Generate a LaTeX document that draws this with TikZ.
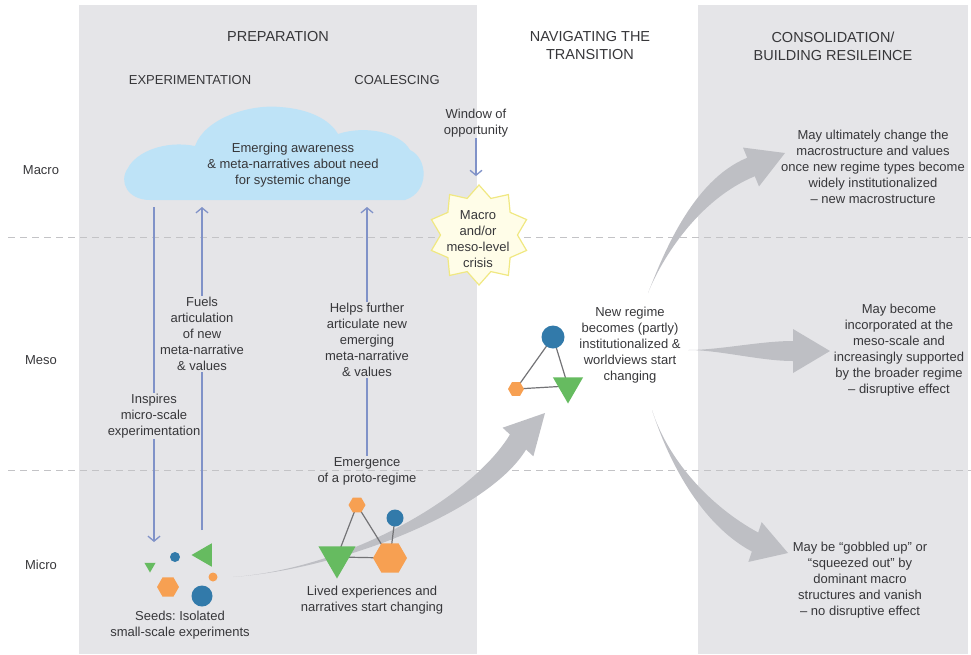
\documentclass[tikz,border=0pt]{standalone}
\usepackage{fontspec}
\setmainfont{Liberation Sans}
\usetikzlibrary{shapes.geometric,arrows.meta,calc,backgrounds}

\definecolor{panelgray}{RGB}{229,229,232}
\definecolor{txtgray}{RGB}{55,55,58}
\definecolor{sepgray}{RGB}{195,195,198}
\definecolor{arrowgray}{RGB}{190,191,196}
\definecolor{linkgray}{RGB}{115,115,118}
\definecolor{flowblue}{RGB}{128,146,200}
\definecolor{cloudblue}{RGB}{190,227,247}
\definecolor{hexorange}{RGB}{247,160,82}
\definecolor{trigreen}{RGB}{102,187,96}
\definecolor{dotblue}{RGB}{50,122,170}
\definecolor{starfill}{RGB}{255,253,232}
\definecolor{starline}{RGB}{240,232,130}

% tapered arrow: tail, control 1, control 2, base of head, tip, half shaft, half head
\newcommand\fatarrow[7]{%
  \fill[bigarrow] (#1) .. controls (#2) and ($(#3)!#6!90:(#4)$) .. ($(#4)!#6!90:(#5)$)
    -- ($(#4)!#7!90:(#5)$) -- (#5) -- ($(#4)!#7!-90:(#5)$) -- ($(#4)!#6!-90:(#5)$)
    .. controls ($(#3)!#6!-90:(#4)$) and (#2) .. (#1) -- cycle;}

\begin{document}
\frenchspacing
\begin{tikzpicture}[x=1pt,y=-1pt,% pixel grid, y downwards
        txt/.style={font=\fontsize{13}{16}\selectfont,align=center,text=txtgray,inner sep=1pt},
        phasehead/.style={font=\fontsize{14.5}{18}\selectfont,align=center,text=txtgray,inner sep=1pt},
        bigarrow/.style={fill=arrowgray},
        levelsep/.style={draw=sepgray,line width=1pt,dash pattern=on 7pt off 5pt},
        flowline/.style={draw=flowblue,line width=1.3pt},
        flow/.style={flowline,-{Straight Barb[length=5pt,width=12pt]}},
        link/.style={draw=linkgray,line width=1.2pt},
        hexa/.style={regular polygon,regular polygon sides=6,fill=hexorange,inner sep=0pt,minimum size=#1},
        tridown/.style={regular polygon,regular polygon sides=3,shape border rotate=180,fill=trigreen,inner sep=0pt,minimum size=#1},
        bluedot/.style={circle,fill=dotblue,inner sep=0pt,minimum size=#1}]
\useasboundingbox (0,0) rectangle (971,654);

\begin{scope}[on background layer]
\fill[panelgray] (79,5) rectangle (477,654);
\fill[panelgray] (698,5) rectangle (968,654);
\foreach \y in {237,470}{ % level separators
\draw[levelsep] (8,\y) -- (971,\y);
}
% big grey arrows
\coordinate (aTail) at (233,577); \coordinate (aTip) at (545,413);
\fatarrow{aTail}{350,568}{482,502}{518,442}{aTip}{11pt}{21pt}
\coordinate (bTail) at (648,293); \coordinate (bTip) at (785,153);
\fatarrow{bTail}{662,258}{695,190}{751,167}{bTip}{10pt}{21pt}
\coordinate (cTail) at (688,350); \coordinate (cTip) at (830,351);
\fatarrow{cTail}{720,350}{760,351}{793,351}{cTip}{10pt}{22pt}
\coordinate (dTail) at (652,410); \coordinate (dTip) at (788,553);
\fatarrow{dTail}{668,460}{705,515}{755,542}{dTip}{10pt}{21pt}
\end{scope}

% phase headings
\node[phasehead] (prep) at (278,37) {PREPARATION};
\node[txt] (exper) at (190,80) {EXPERIMENTATION};
\node[txt] (coal) at (397,80) {COALESCING};
\node[phasehead] (navig) at (590,46) {NAVIGATING THE\\TRANSITION};
\node[phasehead] (consol) at (833,46) {CONSOLIDATION/\\BUILDING RESILEINCE};
\foreach[count=\i] \lvl/\y in {Macro/170,Meso/360,Micro/565}{ % level labels
\node[txt] (lvl-\i) at (41,\y) {\lvl};
}

% cloud
\fill[cloudblue] (150,200) .. controls (128,200) and (118,182) .. (128,168)
  .. controls (136,152) and (165,140) .. (195,146)
  .. controls (205,118) and (250,104) .. (280,107)
  .. controls (310,109) and (330,120) .. (338,134)
  .. controls (365,125) and (400,132) .. (410,150)
  .. controls (428,158) and (430,192) .. (405,200) -- cycle;
\node[txt] (cloud) at (293,165) {Emerging awareness\\\& meta-narratives about need\\for systemic change};
\coordinate (cloudbot) at (0,207);

% crisis
\node[txt] (window) at (476,123) {Window of\\opportunity};
\node[star,star points=10,star point ratio=1.3,minimum size=100pt,inner sep=0pt,
      fill=starfill,draw=starline,line width=1.2pt] (star) at (479,235) {};
\node[txt] (crisis) at (478,239) {Macro\\and/or\\meso-level\\crisis};
\draw[flow,shorten >=8pt] (window.south) -- (window.south |- star.north);

% preparation texts
\node[txt] (inspires) at (154,416) {Inspires\\micro-scale\\experimentation};
\node[txt] (fuels) at (202,334) {Fuels\\articulation\\of new\\meta-narrative\\\& values};
\node[txt] (helps) at (367,340) {Helps further\\articulate new\\emerging\\meta-narrative\\\& values};
\node[txt] (emerge) at (367,471) {Emergence\\of a proto-regime};
\node[txt] (lived) at (372,600) {Lived experiences and\\narratives start changing};
\node[txt] (seeds) at (180,625) {Seeds: Isolated\\small-scale experiments};
\coordinate (seedtop) at (0,542);
\coordinate (fuelfoot) at (0,530);

\draw[flowline] (inspires.north) -- (inspires.north |- cloudbot);
\draw[flow] (inspires.south) -- (inspires.south |- seedtop);
\draw[flowline] (fuels.south |- fuelfoot) -- (fuels.south);
\draw[flow] (fuels.north) -- (fuels.north |- cloudbot);
\draw[flowline] (emerge.north) -- (helps.south);
\draw[flow] (helps.north) -- (helps.north |- cloudbot);

% seeds
\node[tridown=13pt] (sTri) at (150,566) {};
\node[bluedot=10pt] (sBlueS) at (175,557) {};
\node[tridown=27pt,shape border rotate=90] (sTriL) at (205,555) {};
\node[circle,fill=hexorange,inner sep=0pt,minimum size=9pt] (sOr) at (213,577) {};
\node[hexa=22pt] (sHex) at (168,587) {};
\node[bluedot=21pt] (sBlueB) at (202,596) {};

% proto-regime
\node[hexa=17pt] (pHexS) at (357,505) {};
\node[bluedot=17pt] (pBlue) at (395,518) {};
\node[tridown=43pt] (pTri) at (337,557) {};
\node[hexa=34pt] (pHexB) at (390,558) {};

% new regime
\node[bluedot=23pt] (nBlue) at (553,337) {};
\node[hexa=16pt] (nHex) at (516,389) {};
\node[tridown=35pt] (nTri) at (568,386) {};
\node[txt] (newreg) at (630,345) {New regime\\becomes (partly)\\institutionalized \&\\worldviews start\\changing};

\begin{scope}[on background layer]
\draw[link] (pHexS.center) -- (pTri.center);
\draw[link] (pHexS.center) -- (pHexB.center);
\draw[link] (pBlue.center) -- (pHexB.center);
\draw[link] (pTri.center) -- (pHexB.center);
\draw[link] (nBlue.center) -- (nHex.center);
\draw[link] (nBlue.center) -- (nTri.center);
\draw[link] (nHex.center) -- (nTri.center);
\end{scope}

% outcomes
\node[txt] (ultimately) at (873,167) {May ultimately change the\\macrostructure and values\\once new regime types become\\widely institutionalized\\– new macrostructure};
\node[txt] (become) at (899,350) {May become\\incorporated at the\\meso-scale and\\increasingly supported\\by the broader regime\\– disruptive effect};
\node[txt] (gobbled) at (860,580) {May be “gobbled up” or\\“squeezed out” by\\dominant macro\\structures and vanish\\– no disruptive effect};
\end{tikzpicture}
\end{document}
